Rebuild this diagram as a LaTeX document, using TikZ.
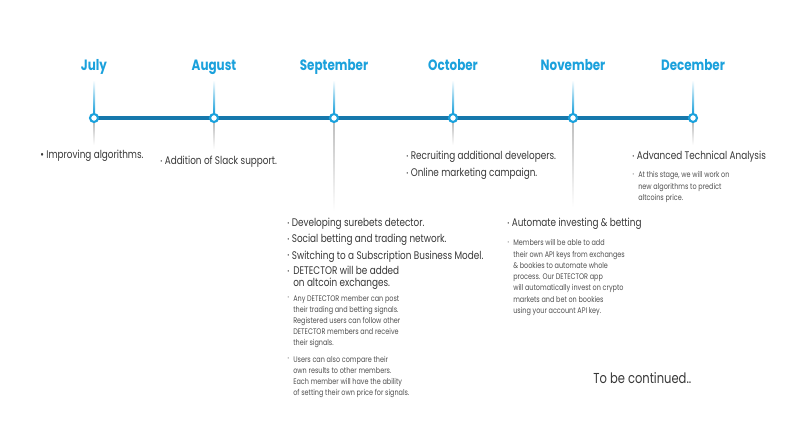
\documentclass[tikz,border=0pt]{standalone}
\usepackage{fontspec}
\setmainfont{Poppins}[FakeStretch=0.8]
\usepackage{tikz}
\usetikzlibrary{positioning,calc}

\definecolor{monthblue}{HTML}{1BA1DC}
\definecolor{lineblue}{HTML}{1678AC}
\definecolor{textgray}{HTML}{383838}
\definecolor{notegray}{HTML}{505050}
\definecolor{dotgray}{HTML}{A0A0A0}

\newcommand{\bul}{\raisebox{0.9pt}{\fontsize{3.6}{4}\selectfont\textbullet}}

\begin{document}
\begin{tikzpicture}[x=0.02cm,y=-0.02cm,
		month/.style={font=\bfseries\fontsize{8.5}{10}\selectfont,text=monthblue,anchor=base,inner sep=0pt},
		dot/.style={circle,draw=monthblue,line width=1.2pt,fill=white,minimum size=0.16cm,inner sep=0pt},
		item/.style={font=\fontsize{6.3}{9}\selectfont,text=textgray,anchor=base west,inner sep=0pt},
		note/.style={font=\fontsize{4.6}{6.4}\selectfont,text=notegray,anchor=base west,inner sep=0pt},
		uptick/.style={top color=white,bottom color=monthblue},
		downtick/.style={top color=black!25,bottom color=white}]
	
	\useasboundingbox[fill=white] (0,0) rectangle (800,425);
	
	% months
	\node[month] (m1) at (94,71) {July};
	\node[month] (m2) at (214,71) {August};
	\node[month] (m3) at (334,71) {September};
	\node[month] (m4) at (453,71) {October};
	\node[month] (m5) at (573,71) {November};
	\node[month] (m6) at (693,71) {December};
	
	% timeline
	\coordinate (d1) at (94,118);
	\coordinate (d6) at (693,118);
	\draw[lineblue,line width=1.8pt] (d1) -- (d6);
	
	\node[dot] (d1) at (94,118) {};
	\node[dot] (d2) at (214,118) {};
	\node[dot] (d3) at (334,118) {};
	\node[dot] (d4) at (453,118) {};
	\node[dot] (d5) at (573,118) {};
	\node[dot] (d6) at (693,118) {};
	
	\foreach \i in {1,...,6}
	\shade[uptick] ($(m\i.base)+(-1,9)$) rectangle ($(d\i.north)+(1,0)$);
	
	\shade[downtick] ($(d1.south)+(-0.8,0)$) rectangle ($(d1.south)+(0.8,22)$);
	\shade[downtick] ($(d2.south)+(-0.8,0)$) rectangle ($(d2.south)+(0.8,26)$);
	\shade[downtick] ($(d3.south)+(-0.8,0)$) rectangle ($(d3.south)+(0.8,88)$);
	\shade[downtick] ($(d4.south)+(-0.8,0)$) rectangle ($(d4.south)+(0.8,22)$);
	\shade[downtick] ($(d5.south)+(-0.8,0)$) rectangle ($(d5.south)+(0.8,84)$);
	\shade[downtick] ($(d6.south)+(-0.8,0)$) rectangle ($(d6.south)+(0.8,22)$);
	
	% July
	\node[item] (jul1) at (40,159) {\textbullet\ Improving algorithms.};
	
	% August
	\node[item] (aug1) at (160,165) {\bul\ Addition of Slack support.};
	
	% September
	\node[item] (sep1) at (287,227) {\bul\ Developing surebets detector.};
	\node[item] (sep2) at (287,243) {\bul\ Social betting and trading network.};
	\node[item] (sep3) at (287,259) {\bul\ Switching to a Subscription Business Model.};
	\node[item] (sep4) at (287,275) {\begin{tabular}[t]{@{}l@{\hspace{2.2pt}}l@{}}\bul&DETECTOR will be added\\[-2.5pt]&on altcoin exchanges.\end{tabular}};
	\node[note] (sep5) at (287,301) {\begin{tabular}[t]{@{}l@{\hspace{2.2pt}}l@{}}{\color{dotgray}\bul}&Any DETECTOR member can post\\&their trading and betting signals.\\&Registered users can follow other\\&DETECTOR members and receive\\&their signals.\end{tabular}};
	\node[note] (sep6) at (287,362) {\begin{tabular}[t]{@{}l@{\hspace{2.2pt}}l@{}}{\color{dotgray}\bul}&Users can also compare their\\&own results to other members.\\&Each member will have the ability\\&of setting their own price for signals.\end{tabular}};
	
	% October
	\node[item] (oct1) at (406,160) {\bul\ Recruiting additional developers.};
	\node[item] (oct2) at (406,177) {\bul\ Online marketing campaign.};
	
	% November
	\node[item] (nov1) at (507,227) {\bul\ Automate investing \& betting};
	\node[note] (nov2) at (507,246) {\begin{tabular}[t]{@{}l@{\hspace{2.2pt}}l@{}}{\color{dotgray}\bul}&Members will be able to add\\&their own API keys from exchanges\\&\& bookies to automate whole\\&process. Our DETECTOR app\\&will automatically invest on crypto\\&markets and bet on bookies\\&using your account API key.\end{tabular}};
	
	% December
	\node[item] (dec1) at (632,160) {\bul\ Advanced Technical Analysis};
	\node[note] (dec2) at (632,178) {\begin{tabular}[t]{@{}l@{\hspace{2.2pt}}l@{}}{\color{dotgray}\bul}&At this stage, we will work on\\&new algorithms to predict\\&altcoins price.\end{tabular}};
	
	\node[item,font=\fontsize{8.2}{10}\selectfont] (more) at (593,383) {To be continued..};
	
\end{tikzpicture}
\end{document}
